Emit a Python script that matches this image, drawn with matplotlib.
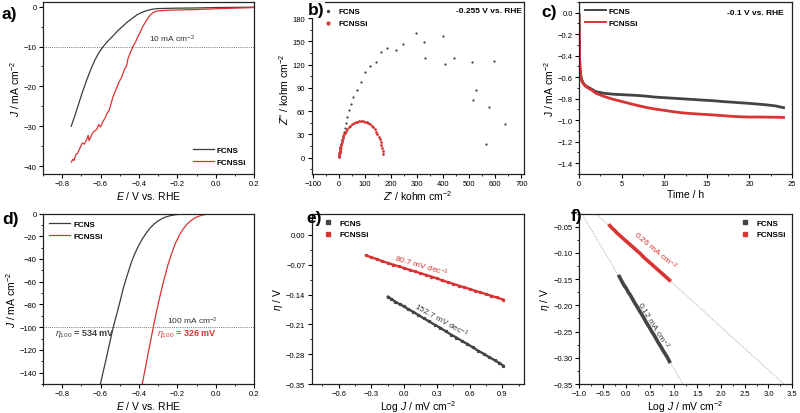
import numpy as np
import matplotlib
import matplotlib.pyplot as plt
from matplotlib.ticker import MultipleLocator
from matplotlib.lines import Line2D

matplotlib.use("Agg")

plt.rcParams["font.family"] = ["Liberation Sans", "DejaVu Sans"]
plt.rcParams["mathtext.fontset"] = "custom"
plt.rcParams["mathtext.rm"] = "Liberation Sans"
plt.rcParams["mathtext.it"] = "Liberation Sans:italic"
plt.rcParams["mathtext.bf"] = "Liberation Sans:bold"

GREY = "#3c3c3c"
RED = "#d93434"

# ---- a) LSV, low current
a_fcns_E = [-0.753, -0.73, -0.717, -0.70, -0.674, -0.65, -0.63, -0.61, -0.587, -0.56,
            -0.535, -0.51, -0.483, -0.46, -0.432, -0.41, -0.38, -0.355, -0.328, -0.30,
            -0.25, -0.2, -0.1, 0.0, 0.1, 0.2]
a_fcns_J = [-30.0, -26.8, -24.8, -22.2, -18.6, -15.6, -13.4, -11.6, -10.0, -8.5,
            -7.3, -6.0, -4.8, -3.8, -2.8, -2.0, -1.3, -0.9, -0.6, -0.45,
            -0.4, -0.35, -0.3, -0.2, -0.15, -0.1]
a_fcnssi_E = [-0.752, -0.745, -0.738, -0.73, -0.72, -0.708, -0.695, -0.685, -0.672, -0.665,
              -0.66, -0.652, -0.645, -0.635, -0.62, -0.61, -0.60, -0.59, -0.575, -0.565,
              -0.555, -0.545, -0.535, -0.52, -0.505, -0.49, -0.475, -0.465, -0.457, -0.445,
              -0.432, -0.418, -0.405, -0.392, -0.38, -0.366, -0.353, -0.34, -0.328, -0.315,
              -0.302, -0.28, -0.26, -0.2, -0.1, 0.0, 0.1, 0.2]
a_fcnssi_J = [-39.0, -38.3, -38.6, -37.2, -36.8, -35.5, -34.2, -34.5, -33.3, -32.3,
              -33.6, -32.8, -32.0, -31.3, -30.8, -29.6, -30.2, -29.0, -27.8, -26.6,
              -26.0, -24.2, -22.5, -20.8, -19.0, -17.6, -15.6, -14.9, -12.9, -11.5,
              -10.0, -8.8, -7.4, -6.2, -4.9, -3.8, -2.8, -2.0, -1.5, -1.2,
              -1.05, -0.95, -0.9, -0.8, -0.7, -0.5, -0.35, -0.2]

# ---- b) Nyquist
b_fcns_re = [1.3, 2.6, 3.8, 6.4, 9.0, 11.5, 14.0, 17.9, 21.7, 25.5, 29.4, 39.6, 47, 56, 69, 83,
             99.6, 121, 140.5, 159.6, 185, 218, 247.8, 297.6, 327, 329.5, 398.5, 408.7, 443,
             511, 527, 514.7, 576, 596, 638.6, 565.8]
b_fcns_im = [3.4, 6.0, 9.0, 12.9, 17.2, 22.4, 27.5, 32.7, 37.9, 44.8, 52, 61.6, 69, 78, 88, 98,
             110, 118.4, 123, 137, 141.6, 139.5, 147, 161.4, 149, 128.7, 157.6, 120.5, 128.3,
             124, 88, 75, 65, 124.8, 44, 18]
b_fcnssi_re = [0.5, 1, 1.5, 2, 2.5, 3, 4, 5, 6, 7, 8.5, 10, 12, 14, 17, 20, 24, 28, 33, 38, 44,
               50, 57, 64, 71, 78, 85, 92, 99, 106, 113, 120, 126, 132, 138, 143, 148, 152, 156,
               160, 163, 165.5, 167.5, 169]
b_fcnssi_im = [1, 2.5, 4, 5.5, 7, 8.5, 10, 12, 14, 16, 18, 20, 22.5, 25, 27.5, 30, 32.5, 35, 37.5,
               39.5, 41.5, 43.2, 44.6, 45.6, 46.3, 46.8, 47, 46.9, 46.5, 45.8, 44.7, 43.2, 41.4,
               39.2, 36.6, 33.8, 30.6, 27.2, 23.6, 19.8, 16, 12.2, 8.6, 5.4]

# ---- c) stability at -0.1 V
c_time = [0, 0.02, 0.05, 0.1, 0.2, 0.3, 0.5, 0.7, 1.0, 1.5, 2, 3, 4, 5, 6, 7, 8, 9, 10, 11, 12,
          13, 14, 15, 16, 17, 18, 19, 20, 21, 22, 23, 24]
c_fcns = [-0.02, -0.2, -0.38, -0.5, -0.58, -0.62, -0.655, -0.675, -0.69, -0.712, -0.735, -0.75,
          -0.758, -0.762, -0.766, -0.77, -0.777, -0.785, -0.79, -0.795, -0.8, -0.805, -0.81,
          -0.815, -0.82, -0.827, -0.832, -0.838, -0.843, -0.85, -0.857, -0.866, -0.883]
c_fcnssi = [-0.02, -0.22, -0.4, -0.52, -0.6, -0.63, -0.66, -0.68, -0.697, -0.72, -0.75, -0.78,
            -0.805, -0.825, -0.846, -0.865, -0.883, -0.897, -0.908, -0.92, -0.93, -0.937, -0.942,
            -0.947, -0.952, -0.958, -0.964, -0.968, -0.97, -0.97, -0.971, -0.972, -0.974]

# ---- d) LSV, high current
d_fcns_E = [-0.601, -0.585, -0.57, -0.555, -0.54, -0.534, -0.52, -0.50, -0.48, -0.46, -0.44,
            -0.42, -0.40, -0.38, -0.36, -0.34, -0.32, -0.30, -0.28, -0.26, -0.24, -0.22, -0.20,
            -0.17, -0.13, -0.08, 0.0, 0.2]
d_fcns_J = [-150, -138, -127, -115.5, -104.3, -100, -91, -78, -64.5, -53.5, -43, -34.5, -27.5,
            -21.6, -16.5, -12.3, -9.0, -6.4, -4.4, -3.0, -2.0, -1.3, -0.8, -0.4, -0.15, -0.05,
            0.0, 0.0]
d_fcnssi_E = [-0.383, -0.37, -0.355, -0.34, -0.326, -0.31, -0.29, -0.27, -0.25, -0.23, -0.21,
              -0.19, -0.17, -0.15, -0.13, -0.11, -0.09, -0.07, -0.05, -0.02, 0.02, 0.2]
d_fcnssi_J = [-150, -138.5, -125, -112.5, -100, -87, -72, -58, -45.5, -35, -26, -19, -13.5,
              -9.3, -6.2, -4.0, -2.4, -1.4, -0.7, -0.25, -0.05, 0.0]

# ---- e/f) Tafel
e_fcns_logj = [-0.15, -0.12, -0.08, -0.04, 0.0, 0.04, 0.08, 0.13, 0.18, 0.23, 0.28, 0.33, 0.38,
               0.43, 0.48, 0.53, 0.58, 0.63, 0.68, 0.73, 0.78, 0.83, 0.87, 0.91]
e_fcns_eta = [-0.145, -0.150, -0.157, -0.163, -0.168, -0.175, -0.180, -0.188, -0.196, -0.203,
              -0.211, -0.218, -0.226, -0.234, -0.241, -0.249, -0.256, -0.264, -0.272, -0.279,
              -0.287, -0.294, -0.300, -0.307]
e_fcnssi_logj = [-0.35, -0.30, -0.25, -0.20, -0.15, -0.10, -0.05, 0.0, 0.05, 0.10, 0.15, 0.20,
                 0.25, 0.30, 0.35, 0.40, 0.45, 0.50, 0.55, 0.60, 0.65, 0.70, 0.75, 0.80, 0.85,
                 0.91]
e_fcnssi_eta = [-0.048, -0.053, -0.057, -0.062, -0.066, -0.070, -0.074, -0.078, -0.082, -0.086,
                -0.090, -0.094, -0.098, -0.102, -0.107, -0.111, -0.115, -0.119, -0.123, -0.127,
                -0.131, -0.135, -0.139, -0.143, -0.147, -0.152]

TICK_FS = 5.5
LABEL_FS = 7.5
LEG_FS = 5.8


def style(ax, xmaj, xmin, ymaj, ymin):
    ax.xaxis.set_major_locator(MultipleLocator(xmaj))
    ax.yaxis.set_major_locator(MultipleLocator(ymaj))
    if xmin:
        ax.xaxis.set_minor_locator(MultipleLocator(xmin))
    if ymin:
        ax.yaxis.set_minor_locator(MultipleLocator(ymin))
    ax.tick_params(which="major", direction="out", length=3, width=0.8, labelsize=TICK_FS, pad=1.5)
    ax.tick_params(which="minor", direction="out", length=1.6, width=0.6)
    for sp in ax.spines.values():
        sp.set_linewidth(0.9)
        sp.set_color("#222222")


def panel_label(fig, x, y, s, box=False):
    kw = {}
    if box:
        kw["bbox"] = dict(facecolor="white", edgecolor="none", pad=0.5)
    fig.text(x / 800, 1 - y / 414, s, fontsize=12.5, fontweight="bold", ha="left", va="center", **kw)


fig = plt.figure(figsize=(8, 4.14), dpi=100)

row1 = [0.5773, 0.4155]
row2 = [0.0700, 0.4118]
cols = [(0.05375, 0.2641), (0.3894, 0.2656), (0.7238, 0.2663)]

ax_a = fig.add_axes([cols[0][0], row1[0], cols[0][1], row1[1]])
ax_b = fig.add_axes([cols[1][0], row1[0], cols[1][1], row1[1]])
ax_c = fig.add_axes([cols[2][0], row1[0], cols[2][1], row1[1]])
ax_d = fig.add_axes([cols[0][0], row2[0], cols[0][1], row2[1]])
ax_e = fig.add_axes([cols[1][0], row2[0], cols[1][1], row2[1]])
ax_f = fig.add_axes([cols[2][0], row2[0], cols[2][1], row2[1]])

leg_prop = {"size": LEG_FS, "weight": "bold"}

# a)
ax_a.axhline(-10, color="#777777", lw=0.7, ls=(0, (1, 1.2)))
ax_a.plot(a_fcns_E, a_fcns_J, color=GREY, lw=0.9, label="FCNS")
ax_a.plot(a_fcnssi_E, a_fcnssi_J, color=RED, lw=0.9, label="FCNSSi")
ax_a.set_xlim(-0.9, 0.2)
ax_a.set_ylim(-42, 1.2)
style(ax_a, 0.2, 0.1, 10, 5)
ax_a.text(-0.23, -8, "10 mA cm$^{-2}$", fontsize=6, ha="center", va="center", color="#333333")
ax_a.set_xlabel("$E$ / V vs. RHE", fontsize=LABEL_FS, labelpad=1)
ax_a.set_ylabel("$J$ / mA cm$^{-2}$", fontsize=LABEL_FS, labelpad=1)
ax_a.legend(loc="lower right", frameon=False, prop=leg_prop, handlelength=2.6,
            handletextpad=0.4, labelspacing=0.55, borderaxespad=0.6)

# b)
ax_b.scatter(b_fcns_re, b_fcns_im, s=2.5, color=GREY, linewidths=0, label="FCNS")
ax_b.scatter(b_fcnssi_re, b_fcnssi_im, s=4, color=RED, linewidths=0, label="FCNSSi")
ax_b.set_xlim(-105, 710)
ax_b.set_ylim(-21, 201)
style(ax_b, 100, 50, 30, 15)
ax_b.text(0.99, 0.95, "-0.255 V vs. RHE", transform=ax_b.transAxes, fontsize=6,
          fontweight="bold", ha="right", va="center")
ax_b.set_xlabel("$Z$' / kohm cm$^{-2}$", fontsize=LABEL_FS, labelpad=1)
ax_b.set_ylabel("$Z$'' / kohm cm$^{-2}$", fontsize=LABEL_FS, labelpad=1)
ax_b.legend(loc="upper left", frameon=False, prop=leg_prop, markerscale=1.5, handlelength=1.0,
            handletextpad=0.8, labelspacing=0.5, borderaxespad=0.3, bbox_to_anchor=(0.03, 1.0))

# c)
ax_c.plot(c_time, c_fcns, color="#444444", lw=2.0, label="FCNS")
ax_c.plot(c_time, c_fcnssi, color=RED, lw=2.0, label="FCNSSi")
ax_c.set_xlim(0, 25)
ax_c.set_ylim(-1.5, 0.1)
style(ax_c, 5, 2.5, 0.2, 0.1)
ax_c.text(0.96, 0.936, "-0.1 V vs. RHE", transform=ax_c.transAxes, fontsize=6,
          fontweight="bold", ha="right", va="center")
ax_c.set_xlabel("Time / h", fontsize=LABEL_FS, labelpad=1)
ax_c.set_ylabel("J / mA cm$^{-2}$", fontsize=LABEL_FS, labelpad=1)
c_handles = [Line2D([], [], color="#444444", lw=1.4), Line2D([], [], color=RED, lw=1.4)]
ax_c.legend(c_handles, ["FCNS", "FCNSSi"], loc="upper left", frameon=False, prop=leg_prop,
            handlelength=2.6, handletextpad=0.4, labelspacing=0.45, borderaxespad=0.3)

# d)
ax_d.axhline(-100, color="#777777", lw=0.7, ls=(0, (1, 1.2)))
ax_d.plot(d_fcns_E, d_fcns_J, color=GREY, lw=0.9, label="FCNS")
ax_d.plot(d_fcnssi_E, d_fcnssi_J, color=RED, lw=0.9, label="FCNSSi")
ax_d.set_xlim(-0.9, 0.2)
ax_d.set_ylim(-150, 0)
style(ax_d, 0.2, 0.1, 20, 10)
ax_d.text(-0.12, -94, "100 mA cm$^{-2}$", fontsize=6, ha="center", va="center", color="#333333")
ax_d.text(-0.84, -105.5, r"$\eta_{100}$ = 534 mV", fontsize=6.5, fontweight="bold",
          ha="left", va="center", color=GREY)
ax_d.text(-0.305, -105.5, r"$\eta_{100}$ = 326 mV", fontsize=6.5, fontweight="bold",
          ha="left", va="center", color=RED)
ax_d.set_xlabel("$E$ / V vs. RHE", fontsize=LABEL_FS, labelpad=1)
ax_d.set_ylabel("$J$ / mA cm$^{-2}$", fontsize=LABEL_FS, labelpad=1)
ax_d.legend(loc="upper left", frameon=False, prop=leg_prop, handlelength=2.6,
            handletextpad=0.4, labelspacing=0.55, borderaxespad=0.4)

# e)
ax_e.plot(e_fcns_logj, e_fcns_eta, color="#444444", lw=1.7, marker="s", ms=1.3, label="FCNS")
ax_e.plot(e_fcnssi_logj, e_fcnssi_eta, color=RED, lw=1.7, marker="s", ms=1.3, label="FCNSSi")
ax_e.set_xlim(-0.85, 1.1)
ax_e.set_ylim(-0.35, 0.05)
style(ax_e, 0.3, 0.15, 0.07, 0.035)
ax_e.text(0.16, -0.071, "80.7 mV dec$^{-1}$", fontsize=6, color=RED, rotation=-16,
          ha="center", va="center")
ax_e.text(0.34, -0.198, "152.7 mV dec$^{-1}$", fontsize=6, color=GREY, rotation=-29,
          ha="center", va="center")
ax_e.set_xlabel("Log $J$ / mV cm$^{-2}$", fontsize=LABEL_FS, labelpad=1)
ax_e.set_ylabel(r"$\eta$ / V", fontsize=LABEL_FS, labelpad=1)
e_handles = [Line2D([], [], color="#444444", ls="", marker="s", ms=2.2),
             Line2D([], [], color=RED, ls="", marker="s", ms=2.2)]
ax_e.legend(e_handles, ["FCNS", "FCNSSi"], loc="upper left", frameon=False, prop=leg_prop,
            handlelength=1.0, handletextpad=1.0, labelspacing=0.5, borderaxespad=0.3,
            bbox_to_anchor=(0.03, 1.0))

# f)
for logj, eta in [(e_fcns_logj, e_fcns_eta), (e_fcnssi_logj, e_fcnssi_eta)]:
    k, b0 = np.polyfit(logj, eta, 1)
    xx = np.array([-1.0, 3.5])
    ax_f.plot(xx, k * xx + b0, color="#999999", lw=0.6, ls=(0, (1, 1.2)))
ax_f.plot(e_fcns_logj, e_fcns_eta, color="#444444", lw=2.6, label="FCNS")
ax_f.plot(e_fcnssi_logj, e_fcnssi_eta, color=RED, lw=2.6, label="FCNSSi")
ax_f.set_xlim(-1.0, 3.5)
ax_f.set_ylim(-0.35, -0.025)
style(ax_f, 0.5, 0.25, 0.05, 0.025)
ax_f.text(0.6, -0.094, "0.26 mA cm$^{-2}$", fontsize=6, color=RED, rotation=-40,
          ha="center", va="center")
ax_f.text(0.56, -0.236, "0.12 mA cm$^{-2}$", fontsize=6, color=GREY, rotation=-58,
          ha="center", va="center")
ax_f.set_xlabel("Log $J$ / mV cm$^{-2}$", fontsize=LABEL_FS, labelpad=1)
ax_f.set_ylabel(r"$\eta$ / V", fontsize=LABEL_FS, labelpad=1)
ax_f.legend(e_handles, ["FCNS", "FCNSSi"], loc="upper right", frameon=False, prop=leg_prop,
            handlelength=1.0, handletextpad=1.0, labelspacing=0.5, borderaxespad=0.3)

panel_label(fig, 2, 14, "a)")
panel_label(fig, 308, 11, "b)", box=True)
panel_label(fig, 541, 12, "c)")
panel_label(fig, 2, 220, "d)")
panel_label(fig, 306, 219, "e)")
panel_label(fig, 571, 217, "f)")

fig.savefig("out.png", dpi=100)
